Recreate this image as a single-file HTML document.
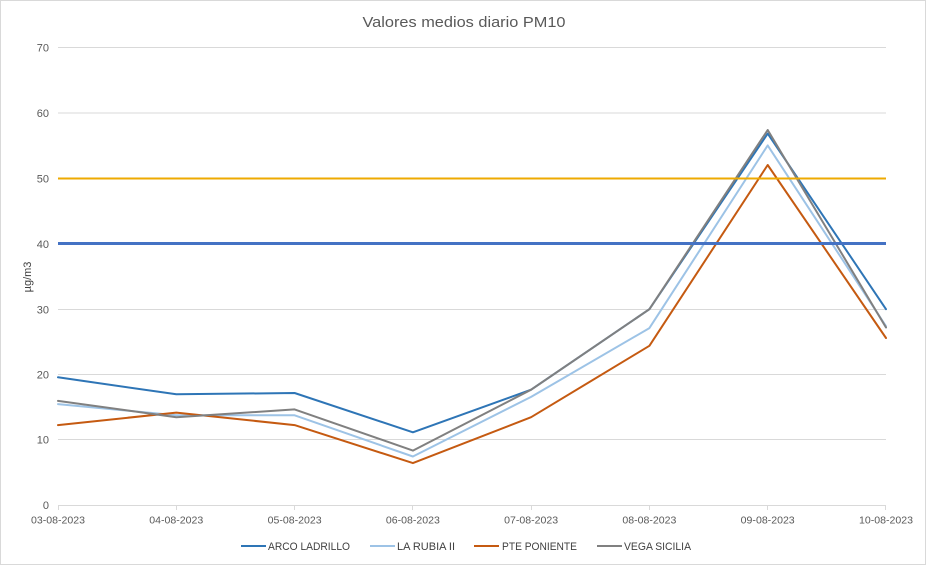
<!DOCTYPE html>
<html><head><meta charset="utf-8"><style>
html,body{margin:0;padding:0;background:#fff;}
svg{display:block;}
text{font-family:"Liberation Sans",sans-serif;}
</style></head><body>
<svg width="927" height="566" viewBox="0 0 927 566" xmlns="http://www.w3.org/2000/svg">
<rect x="0.5" y="0.5" width="925" height="564" fill="#fff" stroke="#d9d9d9" stroke-width="1"/>
<text x="464" y="27" font-size="15" fill="#595959" text-anchor="middle" textLength="203" lengthAdjust="spacingAndGlyphs">Valores medios diario PM10</text>
<!-- gridlines -->
<g stroke="#d9d9d9" stroke-width="1">
<line x1="58" y1="47.5" x2="886" y2="47.5"/>
<line x1="58" y1="113" x2="886" y2="113"/>
<line x1="58" y1="178.5" x2="886" y2="178.5"/>
<line x1="58" y1="244" x2="886" y2="244"/>
<line x1="58" y1="309.5" x2="886" y2="309.5"/>
<line x1="58" y1="374.5" x2="886" y2="374.5"/>
<line x1="58" y1="439.5" x2="886" y2="439.5"/>
<line x1="58" y1="505.5" x2="886" y2="505.5"/>
<line x1="58.5" y1="505" x2="58.5" y2="510"/>
<line x1="176.5" y1="505" x2="176.5" y2="510"/>
<line x1="294.5" y1="505" x2="294.5" y2="510"/>
<line x1="412.5" y1="505" x2="412.5" y2="510"/>
<line x1="531.5" y1="505" x2="531.5" y2="510"/>
<line x1="649.5" y1="505" x2="649.5" y2="510"/>
<line x1="767.5" y1="505" x2="767.5" y2="510"/>
<line x1="885.5" y1="505" x2="885.5" y2="510"/>
</g>
<!-- y labels -->
<g font-size="11" fill="#595959" text-anchor="end">
<text x="49" y="51.5">70</text>
<text x="49" y="117">60</text>
<text x="49" y="182.5">50</text>
<text x="49" y="248">40</text>
<text x="49" y="313.5">30</text>
<text x="49" y="378.5">20</text>
<text x="49" y="443.5">10</text>
<text x="49" y="509">0</text>
</g>
<text transform="translate(31,277) rotate(-90)" font-size="11" fill="#404040" text-anchor="middle">µg/m3</text>
<!-- x labels -->
<g font-size="10.5" fill="#595959" text-anchor="middle">
<text x="58" y="523.5" textLength="54" lengthAdjust="spacingAndGlyphs">03-08-2023</text>
<text x="176.3" y="523.5" textLength="54" lengthAdjust="spacingAndGlyphs">04-08-2023</text>
<text x="294.6" y="523.5" textLength="54" lengthAdjust="spacingAndGlyphs">05-08-2023</text>
<text x="412.9" y="523.5" textLength="54" lengthAdjust="spacingAndGlyphs">06-08-2023</text>
<text x="531.1" y="523.5" textLength="54" lengthAdjust="spacingAndGlyphs">07-08-2023</text>
<text x="649.4" y="523.5" textLength="54" lengthAdjust="spacingAndGlyphs">08-08-2023</text>
<text x="767.7" y="523.5" textLength="54" lengthAdjust="spacingAndGlyphs">09-08-2023</text>
<text x="886" y="523.5" textLength="54" lengthAdjust="spacingAndGlyphs">10-08-2023</text>
</g>
<!-- series -->
<g fill="none" stroke-width="2" stroke-linejoin="round" stroke-linecap="round">
<polyline stroke="#2E75B6" points="58,377.3 176.3,394.3 294.6,393 412.9,432.3 531.1,389.7 649.4,309.2 767.7,133.6 886,309.2"/>
<polyline stroke="#9DC3E6" points="58,404.1 176.3,415.3 294.6,415.3 412.9,456.5 531.1,396.9 649.4,328.1 767.7,145.4 886,326.2"/>
<polyline stroke="#C55A11" points="58,425.1 176.3,412.6 294.6,425.1 412.9,463.1 531.1,417.2 649.4,345.8 767.7,165 886,338"/>
<polyline stroke="#808080" points="58,400.9 176.3,417.2 294.6,409.4 412.9,450.6 531.1,389.7 649.4,309.2 767.7,130 886,327.5"/>
</g>
<line x1="58" y1="178.5" x2="886" y2="178.5" stroke="#EEAA00" stroke-width="2"/>
<line x1="58" y1="243.5" x2="886" y2="243.5" stroke="#4472C4" stroke-width="3"/>
<!-- legend -->
<g stroke-width="2">
<line x1="241" y1="546" x2="266" y2="546" stroke="#2E75B6"/>
<line x1="370" y1="546" x2="395" y2="546" stroke="#9DC3E6"/>
<line x1="474" y1="546" x2="499" y2="546" stroke="#C55A11"/>
<line x1="597" y1="546" x2="622" y2="546" stroke="#808080"/>
</g>
<g font-size="11" fill="#404040">
<text x="268" y="550" textLength="82" lengthAdjust="spacingAndGlyphs">ARCO LADRILLO</text>
<text x="397" y="550" textLength="58" lengthAdjust="spacingAndGlyphs">LA RUBIA II</text>
<text x="502" y="550" textLength="75" lengthAdjust="spacingAndGlyphs">PTE PONIENTE</text>
<text x="624" y="550" textLength="67" lengthAdjust="spacingAndGlyphs">VEGA SICILIA</text>
</g>
</svg>
</body></html>
